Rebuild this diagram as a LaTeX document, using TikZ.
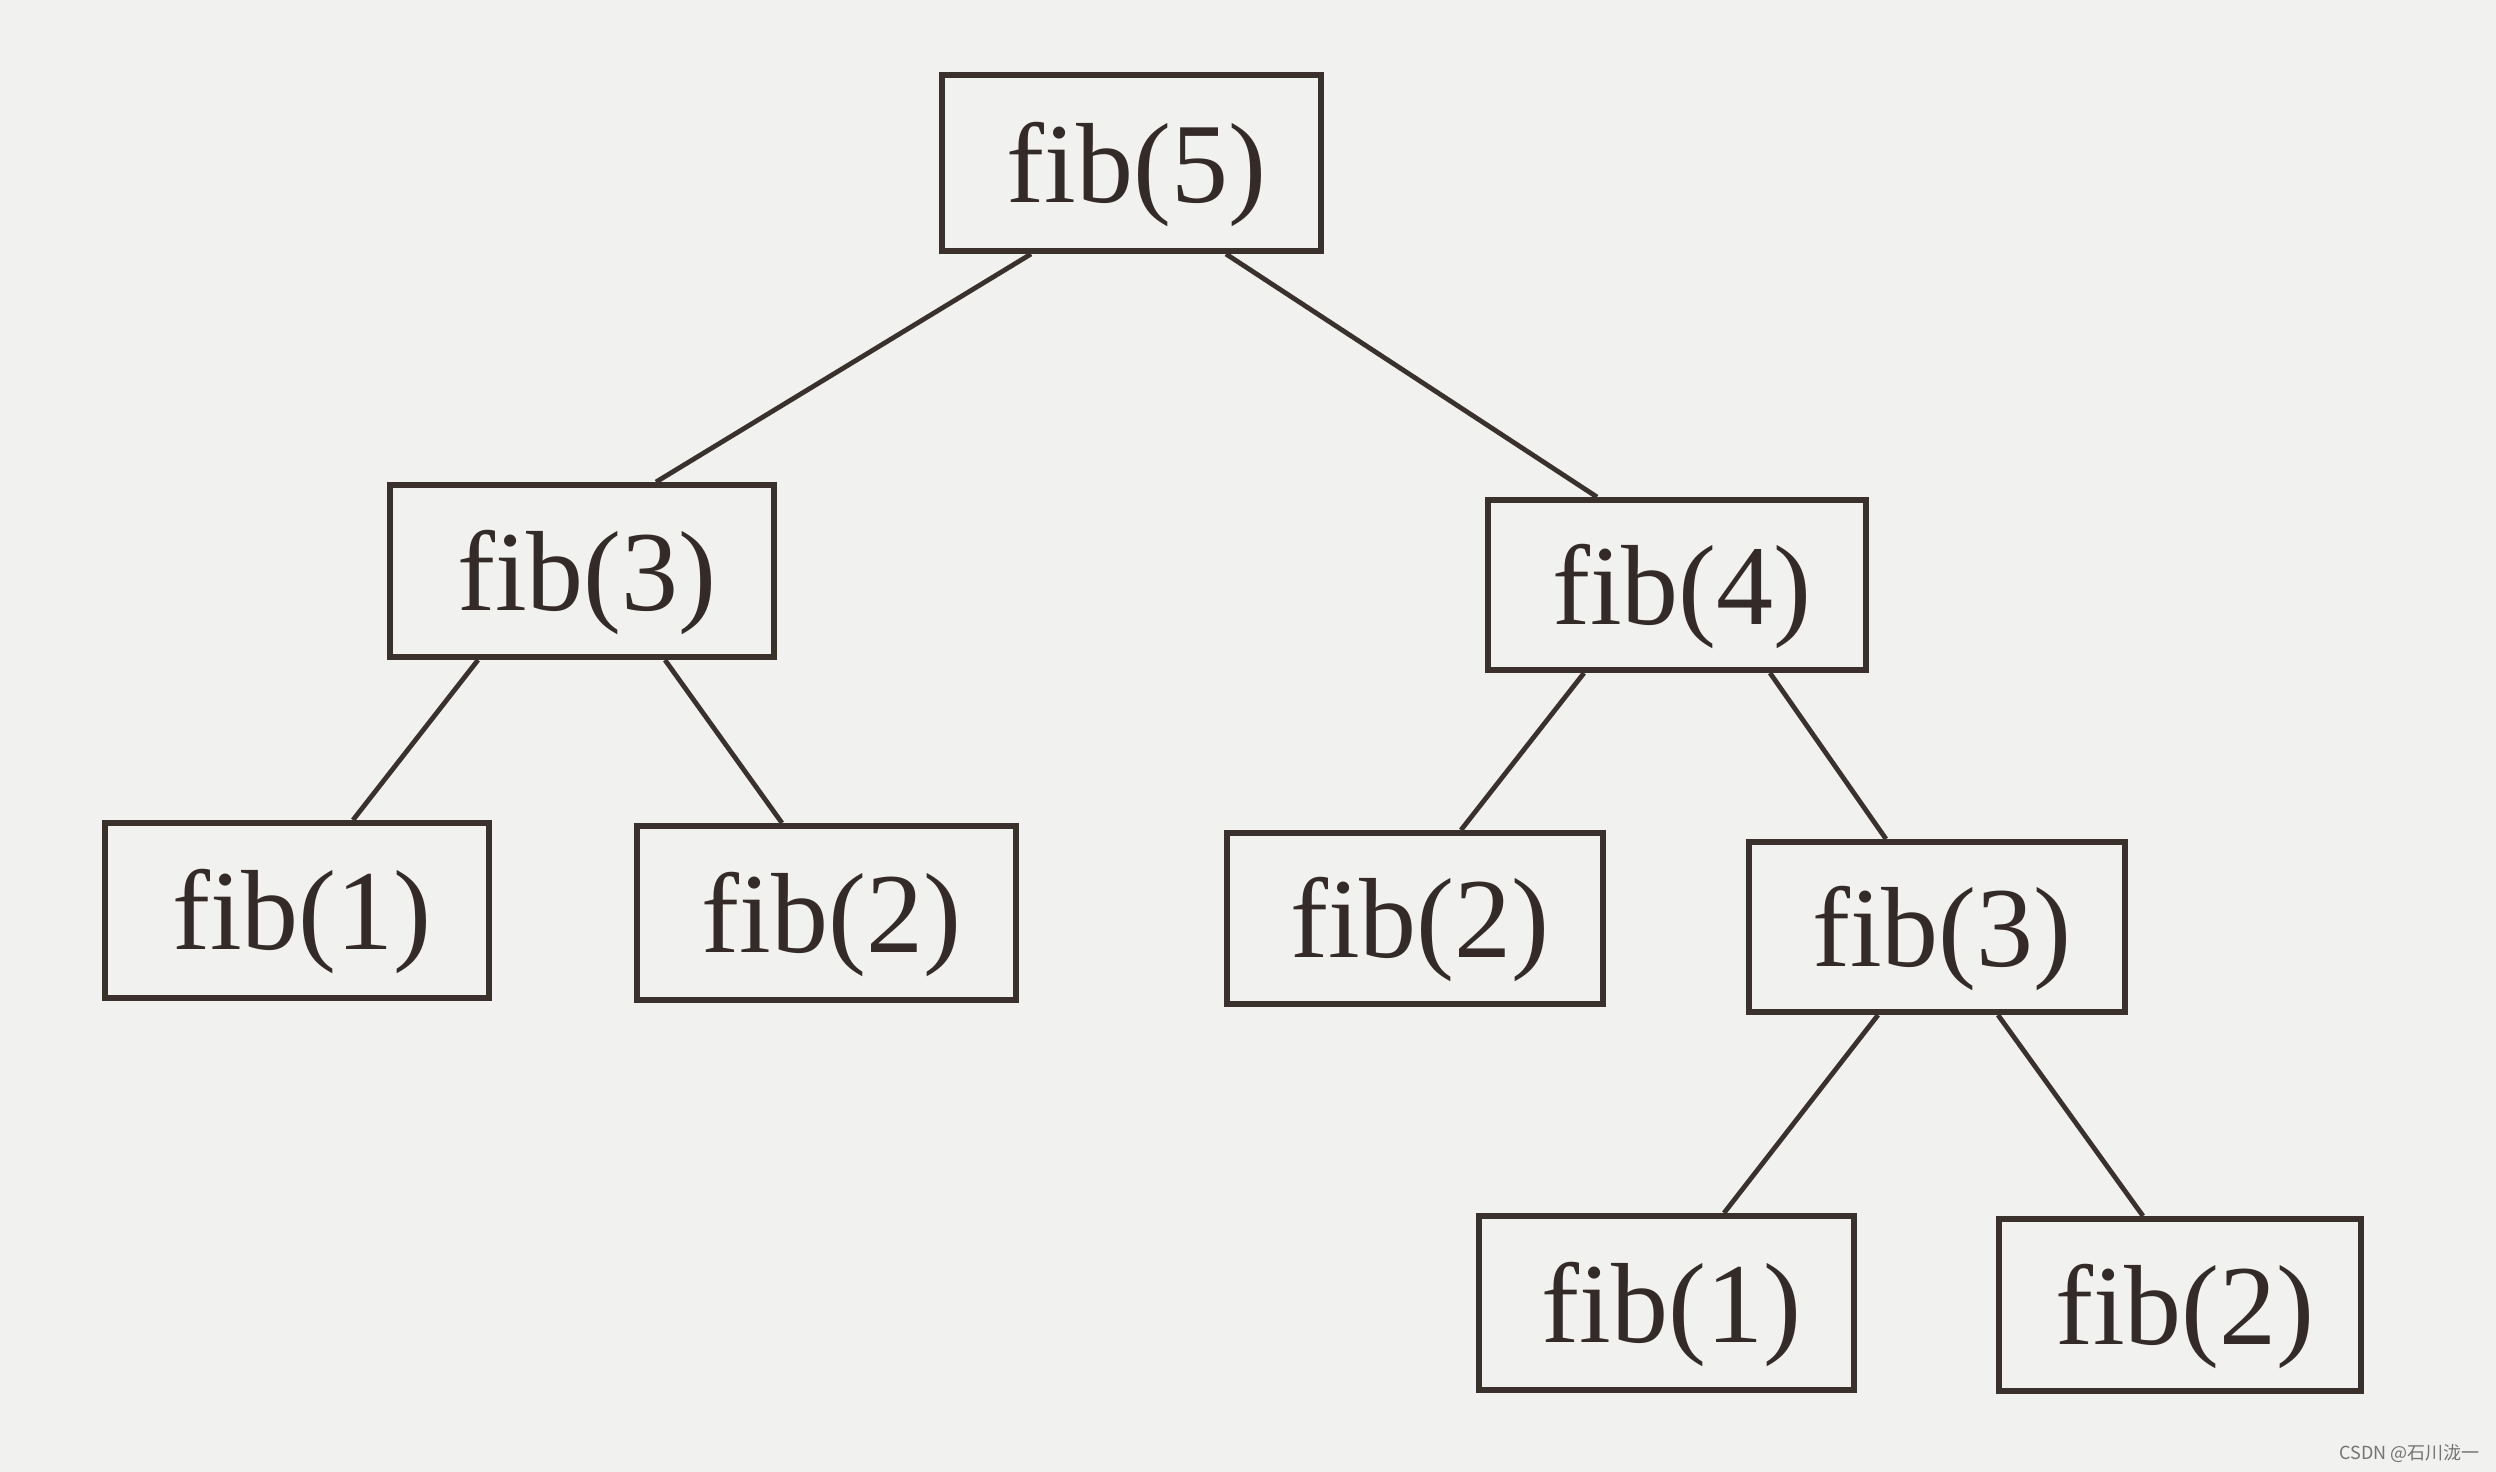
\documentclass[tikz,border=0pt]{standalone}
\usepackage{fontspec}
\setmainfont{Liberation Serif}
\newfontfamily\cjkwm{Noto Sans CJK SC}
\usetikzlibrary{calc}
\definecolor{paper}{HTML}{F1F1EF}
\definecolor{ink}{HTML}{3A302C}
\tikzset{
  fibbox/.style={draw=ink, line width=3pt, rectangle, inner sep=0pt,
    text height=41pt, text depth=2pt,
    execute at begin node={\hspace*{5pt}},
    text=ink!90!black, font=\fontsize{57}{66}\selectfont},
  edge/.style={draw=ink, line width=2.4pt}
}
\begin{document}
\begin{tikzpicture}[x=0.5pt,y=-0.5pt]
\fill[paper] (0,0) rectangle (2496,1472);
\useasboundingbox (0,0) rectangle (2496,1472);
\node[fibbox, minimum width=189.5pt, minimum height=88pt] (n5) at (1131.5,163) {fib(5)};
\node[fibbox, minimum width=192pt, minimum height=86pt] (n3a) at (582,571) {fib(3)};
\node[fibbox, minimum width=189pt, minimum height=85pt] (n4) at (1677,585) {fib(4)};
\node[fibbox, minimum width=192pt, minimum height=87.5pt] (n1a) at (297,910.5) {fib(1)};
\node[fibbox, minimum width=189.5pt, minimum height=87pt] (n2a) at (826.5,913) {fib(2)};
\node[fibbox, minimum width=188pt, minimum height=85.5pt] (n2b) at (1415,918.5) {fib(2)};
\node[fibbox, minimum width=188pt, minimum height=85pt] (n3b) at (1937,927) {fib(3)};
\node[fibbox, minimum width=187.5pt, minimum height=87pt] (n1b) at (1666.5,1303) {fib(1)};
\node[fibbox, minimum width=181pt, minimum height=86pt] (n2c) at (2180,1305) {fib(2)};
\draw[edge] ($(n5.south)+(-100.5,0)$) -- ($(n3a.north)+(74,0)$);
\draw[edge] ($(n5.south)+(94.5,0)$) -- ($(n4.north)+(-80,0)$);
\draw[edge] ($(n3a.south)+(-104,0)$) -- ($(n1a.north)+(56,0)$);
\draw[edge] ($(n3a.south)+(83,0)$) -- ($(n2a.north)+(-44.5,0)$);
\draw[edge] ($(n4.south)+(-93,0)$) -- ($(n2b.north)+(46,0)$);
\draw[edge] ($(n4.south)+(93,0)$) -- ($(n3b.north)+(-51,0)$);
\draw[edge] ($(n3b.south)+(-59,0)$) -- ($(n1b.north)+(57.5,0)$);
\draw[edge] ($(n3b.south)+(61,0)$) -- ($(n2c.north)+(-37,0)$);
\node[anchor=east, inner sep=0pt, text=black!55, font=\cjkwm\fontsize{9}{10}\selectfont] (wm) at (2480,1453) {CSDN @石川泷一};
\end{tikzpicture}
\end{document}
